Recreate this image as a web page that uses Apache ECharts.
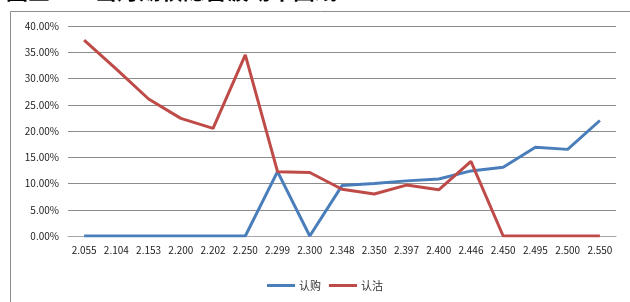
<!DOCTYPE html>
<html>
<head>
<meta charset="utf-8">
<script src="https://cdn.jsdelivr.net/npm/echarts@6/dist/echarts.min.js"></script>
<style>
html,body{margin:0;padding:0;background:#fff;}
#c{width:630px;height:302px;}
</style>
</head>
<body>
<div id="c"></div>
<script>
const categories = ['2.055','2.104','2.153','2.200','2.202','2.250','2.299','2.300','2.348','2.350','2.397','2.400','2.446','2.450','2.495','2.500','2.550'];
const callValues = [0,0,0,0,0,0,12.25,0,9.6,10.0,10.5,10.85,12.4,13.1,16.9,16.5,22.0];
const putValues = [37.3,31.8,26.1,22.4,20.5,34.5,12.25,12.1,8.9,8.0,9.7,8.8,14.2,0,0,0,0];
const seriesNames = ['认购','认沽'];
const titleLead = '图三';
const titleText = '当月期权隐含波动率曲线';

const chart = echarts.init(document.getElementById('c'), null, {renderer:'canvas'});
const font = '"Noto Sans CJK SC", "Liberation Sans", sans-serif';
chart.setOption({
  animation: false,
  backgroundColor: '#fff',
  graphic: [
    {type:'rect', shape:{x:10.5,y:11.5,width:640,height:320}, style:{fill:'none', stroke:'#8c8c8c', lineWidth:1}, silent:true},
    {type:'text', left:6, top:-20, style:{text:titleLead, font:'bold 22px "Noto Sans CJK SC", sans-serif', fill:'#000'}},
    {type:'text', left:95, top:-20, style:{text:titleText, font:'bold 22px "Noto Sans CJK SC", sans-serif', fill:'#000'}}
  ],
  grid: {left:68, right:14, top:26, bottom:66, containLabel:false},
  legend: {
    bottom: 6, left: 262,
    itemWidth: 28, itemHeight: 3, itemGap: 8,
    icon: 'rect',
    textStyle: {fontSize: 11, color:'#333', fontFamily: font, padding:[0,0,0,-1]},
    data: seriesNames
  },
  xAxis: {
    type: 'category',
    data: categories,
    boundaryGap: true,
    axisLine: {lineStyle:{color:'#a6a6a6', width:1}},
    axisTick: {show:false},
    axisLabel: {color:'#222', fontSize:10, fontFamily:font, interval:0, margin:9}
  },
  yAxis: {
    type: 'value',
    min: 0, max: 40, interval: 5,
    axisLine: {show:false},
    axisTick: {show:false},
    splitLine: {lineStyle:{color:'#8c8c8c', width:1}},
    axisLabel: {color:'#222', fontSize:10, fontFamily:font, margin:9,
      formatter: v => v.toFixed(2) + '%'}
  },
  series: [
    {name: seriesNames[0], type:'line', data: callValues, symbol:'none',
     lineStyle:{color:'#4a7ebb', width:3}, itemStyle:{color:'#4a7ebb'}},
    {name: seriesNames[1], type:'line', data: putValues, symbol:'none',
     lineStyle:{color:'#be4b48', width:3}, itemStyle:{color:'#be4b48'}}
  ]
});
</script>
</body>
</html>
